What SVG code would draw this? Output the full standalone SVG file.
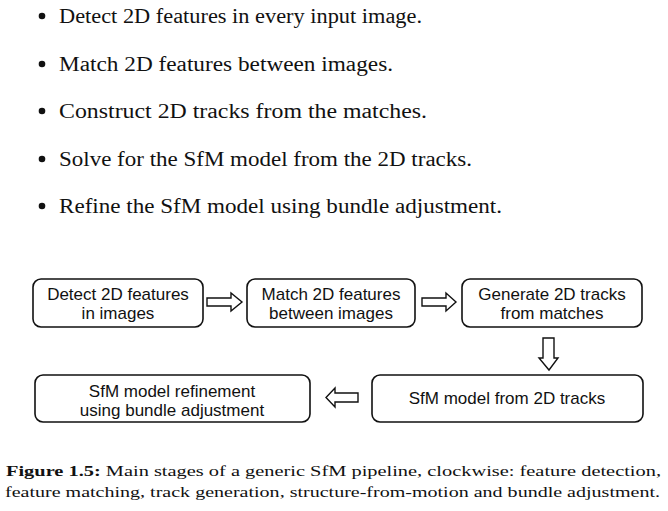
<svg xmlns="http://www.w3.org/2000/svg" width="668" height="511" viewBox="0 0 668 511">
<style>
.bt{font-family:"Liberation Serif","DejaVu Serif",serif;font-size:20px;fill:#111}
.cap{font-family:"Liberation Serif","DejaVu Serif",serif;font-size:14.5px;fill:#111}
.box{fill:#fff;stroke:#111;stroke-width:1.6}
.lbl{font-family:"Liberation Sans",Arial,sans-serif;font-size:17px;fill:#111;text-anchor:middle}
.arr{fill:#fff;stroke:#111;stroke-width:1.4;stroke-linejoin:miter}
</style>
<rect width="668" height="511" fill="#fff"/>
<g id="bullets">
<circle cx="42" cy="16" r="3.3" fill="#111"/>
<text class="bt" x="59" y="23" textLength="363" lengthAdjust="spacingAndGlyphs">Detect 2D features in every input image.</text>
<circle cx="42" cy="64" r="3.3" fill="#111"/>
<text class="bt" x="59" y="71" textLength="334" lengthAdjust="spacingAndGlyphs">Match 2D features between images.</text>
<circle cx="42" cy="111" r="3.3" fill="#111"/>
<text class="bt" x="59" y="118" textLength="368" lengthAdjust="spacingAndGlyphs">Construct 2D tracks from the matches.</text>
<circle cx="42" cy="159" r="3.3" fill="#111"/>
<text class="bt" x="59" y="166" textLength="413" lengthAdjust="spacingAndGlyphs">Solve for the SfM model from the 2D tracks.</text>
<circle cx="42" cy="206" r="3.3" fill="#111"/>
<text class="bt" x="59" y="213" textLength="443" lengthAdjust="spacingAndGlyphs">Refine the SfM model using bundle adjustment.</text>
</g>
<g id="n1">
<rect class="box" x="33" y="279" width="170" height="48" rx="8"/>
<text class="lbl" x="118" y="300">Detect 2D features</text>
<text class="lbl" x="118" y="319">in images</text>
</g>
<g id="n2">
<rect class="box" x="247" y="279" width="168" height="48" rx="8"/>
<text class="lbl" x="331" y="300">Match 2D features</text>
<text class="lbl" x="331" y="319">between images</text>
</g>
<g id="n3">
<rect class="box" x="462" y="279" width="180" height="48" rx="8"/>
<text class="lbl" x="552" y="300">Generate 2D tracks</text>
<text class="lbl" x="552" y="319">from matches</text>
</g>
<g id="n4">
<rect class="box" x="372" y="375" width="271" height="47" rx="8"/>
<text class="lbl" x="507" y="404">SfM model from 2D tracks</text>
</g>
<g id="n5">
<rect class="box" x="35" y="375" width="275" height="47" rx="8"/>
<text class="lbl" x="172" y="397">SfM model refinement</text>
<text class="lbl" x="172" y="416">using bundle adjustment</text>
</g>
<g id="connectors">
<path class="arr" d="M207,298 H231 V293 L242,302 L231,311 V306 H207 Z"/>
<path class="arr" d="M422,298 H446 V293 L456,302 L446,311 V306 H422 Z"/>
<path class="arr" d="M543,338 V358 H539 L549,370 L558,358 H554 V338 Z"/>
<path class="arr" d="M358,393 H335 V388 L326,397.5 L335,407 V402 H358 Z"/>
</g>
<g id="caption">
<text class="cap" x="6" y="476" textLength="655" lengthAdjust="spacingAndGlyphs"><tspan font-weight="bold">Figure 1.5:</tspan> Main stages of a generic SfM pipeline, clockwise: feature detection,</text>
<text class="cap" x="5" y="497" textLength="655" lengthAdjust="spacingAndGlyphs">feature matching, track generation, structure-from-motion and bundle adjustment.</text>
</g>
</svg>
